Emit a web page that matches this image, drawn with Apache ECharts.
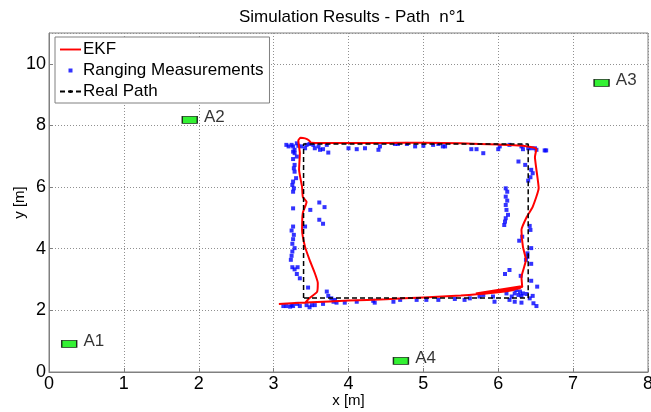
<!DOCTYPE html>
<html>
<head>
<meta charset="utf-8">
<script src="https://cdn.jsdelivr.net/npm/echarts@6/dist/echarts.min.js"></script>
<style>
  html, body { margin: 0; padding: 0; background: #fff; }
  #chart { width: 651px; height: 412px; }
</style>
</head>
<body>
<div id="chart"></div>
<script>
// EKF estimated path
var ekfX = [3.07, 3.5, 4.0, 4.5, 5.0, 5.5, 5.9, 6.2, 6.33, 5.7, 6.3, 5.9, 6.32,
  6.31, 6.37, 6.33, 6.31, 6.38, 6.46, 6.54, 6.51, 6.49, 6.51,
  6.3, 6.0, 5.5, 5.0, 4.5, 4.0, 3.5, 3.47, 3.42, 3.36, 3.33, 3.34,
  3.35, 3.34, 3.38, 3.39, 3.44, 3.39, 3.38, 3.42, 3.48, 3.55, 3.59, 3.58, 3.48, 3.42];
var ekfY = [2.21, 2.26, 2.32, 2.36, 2.42, 2.48, 2.56, 2.66, 2.79, 2.55, 2.72, 2.6, 2.76,
  3.08, 3.64, 4.06, 4.61, 5.03, 5.36, 5.97, 6.56, 6.98, 7.24,
  7.35, 7.38, 7.42, 7.44, 7.43, 7.43, 7.44, 7.52, 7.58, 7.6, 7.52, 7.3,
  7.1, 6.56, 6.0, 5.68, 5.52, 5.16, 4.61, 4.06, 3.64, 3.21, 2.89, 2.6, 2.4, 2.24];

// ranging measurements
var measX = [3.17, 3.20, 3.24, 3.26, 3.28, 3.31, 3.33, 3.37, 3.42, 3.44, 3.48, 3.53, 3.55, 3.60, 3.62, 3.66, 3.71, 3.73,
  4.00, 4.11, 4.22, 4.40, 4.42, 4.62, 4.66, 4.78, 4.89, 5.00, 5.13, 5.20, 5.29,
  5.26, 5.64, 5.71, 5.80, 6.00, 6.02, 6.15, 6.31, 6.33, 6.40, 6.44, 6.49, 6.51, 6.62, 6.64,
  6.27, 6.36, 6.44, 6.46, 6.43, 6.40, 6.42, 6.43, 6.32, 6.28, 6.44, 6.39, 6.39, 6.37, 6.44, 6.15, 6.09, 6.30, 6.44, 6.52,
  6.10, 6.12, 6.10, 6.12, 6.10, 6.11, 6.13, 6.10, 6.09, 6.08,
  6.24, 6.29, 6.22, 6.33, 6.27, 6.31, 6.38, 6.46, 5.80, 5.75, 5.93, 6.15, 6.22, 6.31, 6.42, 6.47, 6.51, 5.95, 5.55, 5.62, 5.42, 6.11, 6.18,
  3.71, 3.73, 3.77, 3.82, 3.84, 3.80, 3.66, 3.95, 4.11, 4.33, 4.35, 4.60, 4.69, 4.91, 5.04, 5.20,
  3.13, 3.17, 3.22, 3.24, 3.26, 3.31, 3.35, 3.44, 3.48, 3.51, 3.55, 3.46,
  3.26, 3.24, 3.27, 3.26, 3.25, 3.28, 3.25, 3.24, 3.23, 3.25, 3.28, 3.32, 3.31, 3.35, 3.61, 3.66,
  3.26, 3.28, 3.31, 3.26, 3.28, 3.27, 3.28, 3.30, 3.26, 3.25, 3.27, 3.26, 3.26, 3.49, 3.61, 3.68, 3.42];
var measY = [7.37, 7.32, 7.37, 7.32, 7.21, 7.42, 7.34, 7.32, 7.26, 7.37, 7.40, 7.37, 7.26, 7.32, 7.21, 7.23, 7.37, 7.12,
  7.26, 7.23, 7.26, 7.21, 7.32, 7.40, 7.40, 7.40, 7.32, 7.34, 7.37, 7.40, 7.32,
  7.32, 7.23, 7.23, 7.10, 7.23, 7.32, 7.37, 7.32, 7.23, 7.26, 7.26, 7.26, 7.21, 7.19, 7.19,
  6.83, 6.72, 6.56, 6.45, 6.32, 6.21, 4.74, 4.61, 4.39, 4.26, 4.02, 3.85, 3.74, 3.64, 3.51, 3.31, 3.18, 3.12, 2.96, 2.77,
  5.96, 5.85, 5.69, 5.56, 5.42, 5.26, 5.10, 4.99, 4.88, 4.77,
  2.66, 2.61, 2.55, 2.55, 2.50, 2.47, 2.53, 2.47, 2.50, 2.45, 2.45, 2.34, 2.28, 2.25, 2.39, 2.23, 2.14, 2.28, 2.34, 2.39, 2.37, 2.55, 2.45,
  2.61, 2.47, 2.39, 2.34, 2.25, 2.28, 2.21, 2.25, 2.28, 2.31, 2.25, 2.28, 2.34, 2.34, 2.34, 2.34,
  2.14, 2.14, 2.12, 2.17, 2.14, 2.21, 2.14, 2.17, 2.10, 2.17, 2.17, 2.74,
  4.72, 4.59, 4.45, 4.31, 4.16, 4.02, 3.91, 3.77, 3.64, 3.40, 3.33, 3.40, 3.18, 3.04, 4.94, 4.81,
  7.15, 7.10, 6.99, 6.91, 6.72, 6.61, 6.50, 6.29, 6.18, 6.07, 5.96, 5.85, 5.31, 5.26, 5.50, 5.35, 4.72];

// real path
var pathX = [3.4, 3.4, 6.4, 6.4, 3.4];
var pathY = [2.4, 7.4, 7.4, 2.4, 2.4];

// anchors
var anchorNames = ['A1', 'A2', 'A3', 'A4'];
var anchorX = [0.27, 1.88, 7.38, 4.70];
var anchorY = [0.91, 8.18, 9.38, 0.36];

var xTicks = [0, 1, 2, 3, 4, 5, 6, 7, 8];
var yTicks = [0, 2, 4, 6, 8, 10];

function zip(a, b) {
  return a.map(function (v, i) { return [v, b[i]]; });
}

var font = 'Liberation Sans, Arial, sans-serif';

var option = {
  animation: false,
  backgroundColor: '#fff',
  title: {
    text: 'Simulation Results - Path  n\u00b01',
    left: 347,
    textAlign: 'center',
    top: 4,
    textStyle: { fontFamily: font, fontSize: 17, fontWeight: 'normal', color: '#000' }
  },
  grid: {
    left: 49, right: 3, top: 33, bottom: 40,
    outerBoundsMode: 'none',
    show: true, borderColor: '#808080', borderWidth: 1, backgroundColor: '#fff'
  },
  legend: {
    data: [
      { name: 'EKF', icon: 'path://M0,0h11v1h-11z' },
      { name: 'Ranging Measurements', icon: 'path://M0,0h10v10h-10z' },
      { name: 'Real Path' }
    ],
    left: 55, top: 37,
    orient: 'vertical',
    itemWidth: 21, itemHeight: 4, itemGap: 4,
    padding: [4, 6, 3, 4],
    borderColor: '#808080', borderWidth: 1, backgroundColor: '#fff',
    textStyle: { fontFamily: font, fontSize: 17, color: '#000', padding: [0, 0, 0, -3] }
  },
  xAxis: {
    type: 'value', min: 0, max: 8, interval: 1,
    name: 'x [m]', nameLocation: 'middle', nameGap: 21, nameMoveOverlap: false,
    nameTextStyle: { fontFamily: font, fontSize: 15, color: '#000' },
    axisLine: { show: true, onZero: false, lineStyle: { color: '#808080' } },
    axisTick: { show: true, inside: true, length: 4, lineStyle: { color: '#808080' } },
    axisLabel: { fontFamily: font, fontSize: 18, color: '#000', margin: 3,
      formatter: function (v) { return xTicks.indexOf(v) >= 0 ? String(v) : ''; } },
    splitLine: { show: true, lineStyle: { color: '#909090', type: [1, 2], width: 1 } }
  },
  yAxis: {
    type: 'value', min: 0, max: 11, interval: 2,
    name: 'y [m]', nameLocation: 'middle', nameGap: 22, nameMoveOverlap: false,
    nameTextStyle: { fontFamily: font, fontSize: 15, color: '#000' },
    axisLine: { show: true, onZero: false, lineStyle: { color: '#808080' } },
    axisTick: { show: true, inside: true, length: 4, lineStyle: { color: '#808080' } },
    axisLabel: { fontFamily: font, fontSize: 18, color: '#000', margin: 3, showMaxLabel: false,
      formatter: function (v) { return yTicks.indexOf(v) >= 0 ? String(v) : ''; } },
    splitLine: { show: true, lineStyle: { color: '#909090', type: [1, 2], width: 1 } }
  },
  series: [
    {
      name: 'EKF', type: 'line', data: zip(ekfX, ekfY),
      symbol: 'none', smooth: 0.15,
      lineStyle: { color: '#ff0000', width: 2 },
      itemStyle: { color: '#ff0000' }
    },
    {
      name: 'Ranging Measurements', type: 'scatter', data: zip(measX, measY),
      symbol: 'rect', symbolSize: 4,
      itemStyle: { color: '#0000ff' }
    },
    {
      name: 'Real Path', type: 'line', data: zip(pathX, pathY),
      symbol: 'none',
      lineStyle: { color: '#000', width: 1.5, type: [5, 3] },
      itemStyle: { color: '#000' }
    },
    {
      name: 'Anchors', type: 'scatter', data: zip(anchorX, anchorY),
      symbol: 'rect', symbolSize: [15, 7],
      itemStyle: { color: '#00ee00', borderColor: '#000', borderWidth: 1 },
      label: {
        show: true, position: 'right', distance: 6,
        fontFamily: font, fontSize: 17, color: '#000', offset: [0, -3],
        formatter: function (p) { return anchorNames[p.dataIndex]; }
      }
    }
  ]
};

var myChart = echarts.init(document.getElementById('chart'));
myChart.setOption(option);
</script>
</body>
</html>
